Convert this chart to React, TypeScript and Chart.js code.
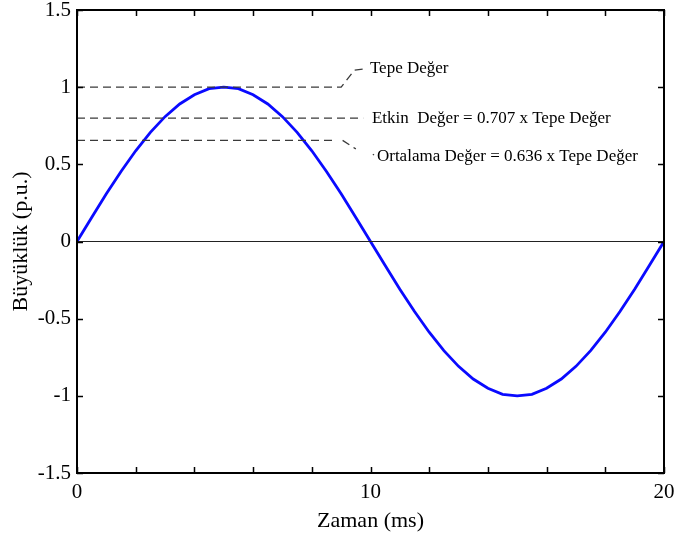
import React, { useEffect, useRef } from "react";
import { Chart, registerables } from "chart.js";

Chart.register(...registerables);

// ---- data ----
const timeMs = [
  0, 0.5, 1, 1.5, 2, 2.5, 3, 3.5, 4, 4.5, 5, 5.5, 6, 6.5, 7, 7.5, 8, 8.5, 9, 9.5, 10,
  10.5, 11, 11.5, 12, 12.5, 13, 13.5, 14, 14.5, 15, 15.5, 16, 16.5, 17, 17.5, 18, 18.5, 19, 19.5, 20,
];
const magnitude = [
  0, 0.156, 0.309, 0.454, 0.588, 0.707, 0.809, 0.891, 0.951, 0.99, 1.0, 0.99, 0.951, 0.891, 0.809, 0.707,
  0.588, 0.454, 0.309, 0.156, 0, -0.156, -0.309, -0.454, -0.588, -0.707, -0.809, -0.891, -0.951, -0.99,
  -1.0, -0.99, -0.951, -0.891, -0.809, -0.707, -0.588, -0.454, -0.309, -0.156, 0,
];

// reference (dashed) levels with their leader lines
const peakLineX = [0, 9.0, 9.45, 9.9];
const peakLineY = [1.0, 1.0, 1.11, 1.12];
const rmsLineX = [0, 9.75];
const rmsLineY = [0.8, 0.8];
const avgLineX = [0, 8.8];
const avgLineY = [0.655, 0.655];
const avgLeaderX = [9.05, 9.5];
const avgLeaderY = [0.655, 0.6];
const avgDotX = [10.08, 10.12];
const avgDotY = [0.565, 0.56];

const zeroLineX = [0, 20];
const zeroLineY = [0, 0];

const annotationLabels = [
  "Tepe Değer",
  "Etkin  Değer = 0.707 x Tepe Değer",
  "Ortalama Değer = 0.636 x Tepe Değer",
];
const annotationX = [9.98, 10.05, 10.22];
const annotationY = [1.118, 0.797, 0.55];

const xTicks = [0, 2, 4, 6, 8, 10, 12, 14, 16, 18, 20];
const xLabelled = [0, 10, 20];
const yTicks = [-1.5, -1, -0.5, 0, 0.5, 1, 1.5];

const xTitle = "Zaman (ms)";
const yTitle = "Büyüklük (p.u.)";

const FONT = "'Liberation Serif', 'Times New Roman', serif";

const pts = (xs: number[], ys: number[]) => xs.map((x, i) => ({ x, y: ys[i] }));

const framePlugin = {
  id: "frame",
  afterDatasetsDraw(chart: any) {
    const { ctx, chartArea, scales } = chart;
    const { left, right, top, bottom } = chartArea;
    const xs = scales.x;
    const ys = scales.y;
    ctx.save();
    // annotation text
    ctx.fillStyle = "#000";
    ctx.font = `17px ${FONT}`;
    ctx.textAlign = "left";
    ctx.textBaseline = "middle";
    annotationLabels.forEach((t, i) => {
      ctx.fillText(t, xs.getPixelForValue(annotationX[i]), ys.getPixelForValue(annotationY[i]));
    });
    // box
    ctx.strokeStyle = "#000";
    ctx.lineWidth = 2;
    ctx.setLineDash([]);
    ctx.strokeRect(left, top, right - left, bottom - top);
    // ticks inward
    ctx.lineWidth = 1.5;
    const tl = 6;
    ctx.beginPath();
    xTicks.forEach((v) => {
      const p = Math.round(xs.getPixelForValue(v)) + 0.5;
      ctx.moveTo(p, bottom);
      ctx.lineTo(p, bottom - tl);
      ctx.moveTo(p, top);
      ctx.lineTo(p, top + tl);
    });
    yTicks.forEach((v) => {
      const p = Math.round(ys.getPixelForValue(v)) + 0.5;
      ctx.moveTo(left, p);
      ctx.lineTo(left + tl, p);
      ctx.moveTo(right, p);
      ctx.lineTo(right - tl, p);
    });
    ctx.stroke();
    ctx.restore();
  },
};

export default function App() {
  const ref = useRef<HTMLCanvasElement | null>(null);
  useEffect(() => {
    document.body.style.margin = "0";
    const dashed = { borderColor: "#3a3a3a", borderWidth: 1.3, borderDash: [8, 5], pointRadius: 0, fill: false };
    const chart = new Chart(ref.current as HTMLCanvasElement, {
      type: "line",
      data: {
        datasets: [
          { data: pts(zeroLineX, zeroLineY), borderColor: "#222", borderWidth: 1.2, pointRadius: 0 },
          { data: pts(peakLineX, peakLineY), ...dashed },
          { data: pts(rmsLineX, rmsLineY), ...dashed },
          { data: pts(avgLineX, avgLineY), ...dashed },
          { data: pts(avgLeaderX, avgLeaderY), ...dashed },
          { data: pts(avgDotX, avgDotY), ...dashed, borderDash: [] },
          {
            data: pts(timeMs, magnitude),
            borderColor: "#0a0aff",
            borderWidth: 2.8,
            pointRadius: 0,
            tension: 0,
          },
        ],
      },
      options: {
        animation: false,
        responsive: true,
        maintainAspectRatio: false,
        layout: { padding: { top: 10, right: 10, left: 0, bottom: 0 } },
        plugins: { legend: { display: false }, tooltip: { enabled: false } },
        scales: {
          x: {
            type: "linear",
            min: 0,
            max: 20,
            grid: { display: false, drawTicks: false },
            border: { display: false },
            afterBuildTicks: (s: any) => {
              s.ticks = xTicks.map((v) => ({ value: v }));
            },
            afterFit: (s: any) => {
              s.height = 65;
              s.paddingLeft = 0;
              s.paddingRight = 0;
            },
            ticks: {
              autoSkip: false,
              maxRotation: 0,
              padding: 7,
              color: "#000",
              font: { family: FONT, size: 21 },
              callback: (v: any) => (xLabelled.includes(Number(v)) ? String(v) : ""),
            },
            title: {
              display: true,
              text: xTitle,
              color: "#000",
              font: { family: FONT, size: 22 },
              padding: { top: 0, bottom: 4 },
            },
          },
          y: {
            type: "linear",
            min: -1.5,
            max: 1.5,
            grid: { display: false, drawTicks: false },
            border: { display: false },
            afterBuildTicks: (s: any) => {
              s.ticks = yTicks.map((v) => ({ value: v }));
            },
            afterFit: (s: any) => {
              s.width = 77;
              s.paddingTop = 0;
              s.paddingBottom = 0;
            },
            ticks: {
              autoSkip: false,
              padding: 6,
              color: "#000",
              font: { family: FONT, size: 21 },
              callback: (v: any) => String(v),
            },
            title: {
              display: true,
              text: yTitle,
              color: "#000",
              font: { family: FONT, size: 22 },
              padding: { top: 8, bottom: 0 },
            },
          },
        },
      },
      plugins: [framePlugin],
    } as any);
    return () => chart.destroy();
  }, []);
  return (
    <div style={{ position: "absolute", left: 0, top: 0, width: 674, height: 538, background: "#fff" }}>
      <canvas ref={ref} />
    </div>
  );
}
